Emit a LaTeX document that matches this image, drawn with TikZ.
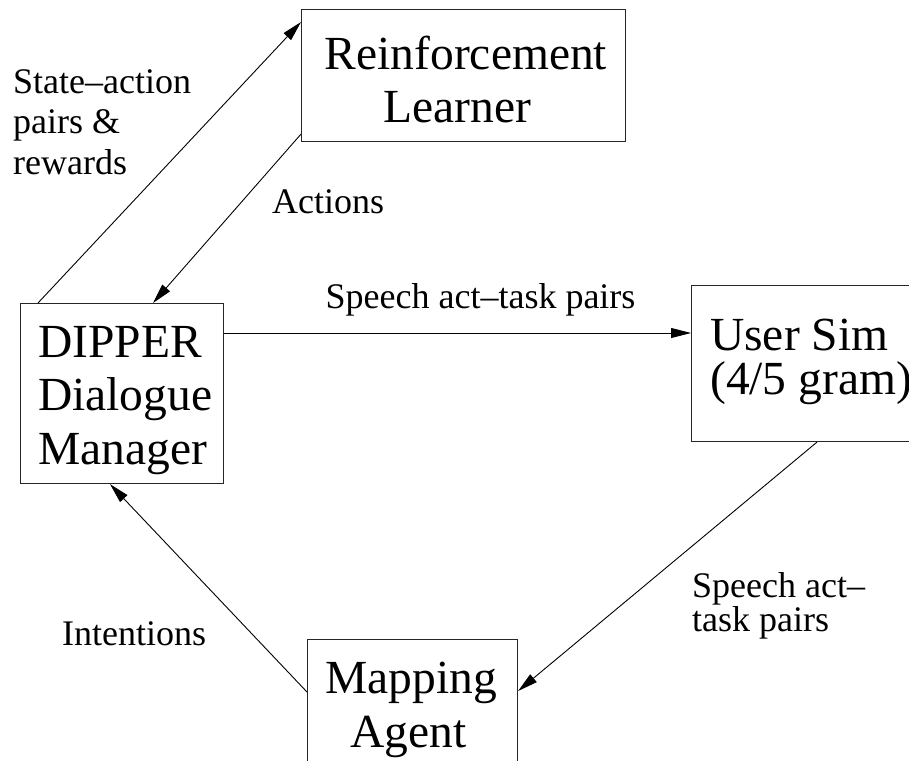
\documentclass[tikz,border=0pt]{standalone}
\usepackage{fontspec}
\setmainfont{Liberation Serif}
\usetikzlibrary{arrows.meta}

\tikzset{
  box/.style={draw=black!85, line width=1.1pt, inner sep=0pt, anchor=north west},
  big/.style={font=\fontsize{47.5}{57}\selectfont, inner sep=0pt},
  small/.style={font=\fontsize{36}{40}\selectfont, inner sep=0pt},
  flow/.style={draw=black, line width=0.9pt, -{Triangle[length=20pt,width=10pt]}},
}

\begin{document}
\begin{tikzpicture}[x=1pt, y=-1pt]
  \useasboundingbox (0,0) rectangle (909,760);

  % component boxes
  \node[box, minimum width=324pt, minimum height=132pt] (rl) at (301,9) {};
  \node[box, minimum width=203pt, minimum height=180pt] (dm) at (20,303) {};
  \node[box, minimum width=240pt, minimum height=156pt] (us) at (691,285) {};
  \node[box, minimum width=210pt, minimum height=150pt] (ma) at (307,639) {};

  % box captions
  \node[big, anchor=base] (rlA) at (466,70) {Reinforcement};
  \node[big, anchor=base] (rlB) at (457.5,122) {Learner};
  \node[big, anchor=base west] (dmA) at (38,357) {DIPPER};
  \node[big, anchor=base west] (dmB) at (38,410) {Dialogue};
  \node[big, anchor=base west] (dmC) at (38,464) {Manager};
  \node[big, anchor=base west] (usA) at (710,350) {User Sim};
  \node[big, anchor=base west] (usB) at (710,394) {(4/5 gram)};
  \node[big, anchor=base] (maA) at (411,693) {Mapping};
  \node[big, anchor=base] (maB) at (408.5,747) {Agent};

  % connectors
  \draw[flow] ([xshift=18pt]dm.north west) -- ([yshift=-13pt]rl.north west);
  \draw[flow] ([yshift=8pt]rl.south west) -- ([xshift=133pt]dm.north west);
  \draw[flow] ([yshift=-30pt]dm.north east) -- ([yshift=-48pt]us.north west);
  \draw[flow] ([xshift=126pt]us.south west) -- ([yshift=-52pt]ma.north east);
  \draw[flow] ([yshift=-53pt]ma.north west) -- ([xshift=90pt]dm.south west);

  % connector labels
  \node[small, anchor=base west] (lsA) at (13,93) {State\textendash action};
  \node[small, anchor=base west] (lsB) at (13,133) {pairs \&};
  \node[small, anchor=base west] (lsC) at (13,174) {rewards};
  \node[small, anchor=base west] (lact) at (272,213) {Actions};
  \node[small, anchor=base] (lsp) at (480.5,308) {Speech act\textendash task pairs};
  \node[small, anchor=base west] (lusA) at (692,597) {Speech act\textendash};
  \node[small, anchor=base west] (lusB) at (692,631) {task pairs};
  \node[small, anchor=base west] (lint) at (62,645) {Intentions};
\end{tikzpicture}
\end{document}
